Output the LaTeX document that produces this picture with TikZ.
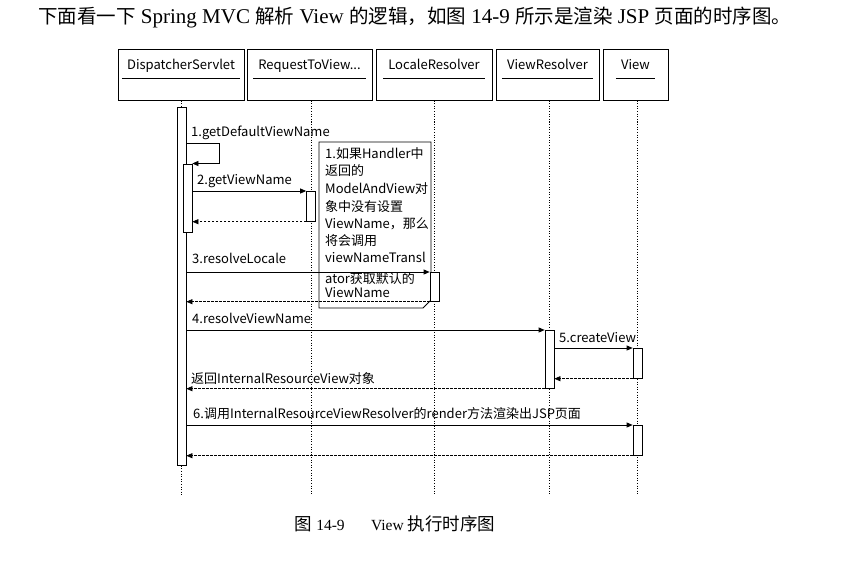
\documentclass[tikz,border=0pt]{standalone}
\usepackage{fontspec}
\setmainfont{Liberation Serif}
\newfontfamily\cjk{Noto Sans CJK SC}
\usetikzlibrary{arrows.meta}
\newcommand\zhT[1]{{\cjk\fontsize{19.5}{22}\selectfont #1}}
\newcommand\zhC[1]{{\cjk\fontsize{17.5}{20}\selectfont #1}}
\newcommand\dgf{\cjk\fontsize{13}{16}\selectfont}
\begin{document}
\begin{tikzpicture}[x=1pt,y=-1pt,
  hdr/.style={draw, line width=0.7pt, inner sep=0pt, anchor=north west, minimum height=51pt},
  hlab/.style={font=\dgf, inner xsep=5pt, inner ysep=5pt, text height=10pt, text depth=3pt, anchor=south},
  act/.style={draw, fill=white, line width=0.7pt, minimum width=9pt, inner sep=0pt, anchor=north},
  life/.style={line width=0.8pt, dash pattern=on 1pt off 1.6pt},
  msg/.style={line width=0.7pt, -{Triangle[length=6pt,width=5pt]}},
  ret/.style={msg, dash pattern=on 2.5pt off 1.5pt},
  lab/.style={font=\dgf, anchor=base west, inner sep=0pt},
  notetxt/.style={font=\dgf, anchor=base west, inner sep=0pt}]
\useasboundingbox[fill=white] (0,0) rectangle (845,575);

% title
\node[anchor=base west, inner sep=0pt, font=\fontsize{21}{24}\selectfont] (title) at (38,24)
  {\zhT{下面看一下} Spring MVC \zhT{解析} View \zhT{的逻辑，如图} 14-9 \zhT{所示是渲染} JSP \zhT{页面的时序图。}};

% headers
\node[hdr, minimum width=126pt] (hDS) at (118,49) {};
\node[hdr, minimum width=125pt] (hRTV) at (247,49) {};
\node[hdr, minimum width=116pt] (hLR) at (376,49) {};
\node[hdr, minimum width=103pt] (hVR) at (496,49) {};
\node[hdr, minimum width=65pt] (hV) at (603,49) {};

\node[hlab] (tDS) at (181,78) {DispatcherServlet};
\node[hlab] (tRTV) at (309.5,78) {RequestToView...};
\node[hlab] (tLR) at (434,78) {LocaleResolver};
\node[hlab] (tVR) at (547.5,78) {ViewResolver};
\node[hlab] (tV) at (635.5,78) {View};
\foreach \t in {tDS,tRTV,tLR,tVR,tV}
  \draw[line width=0.7pt] (\t.south west) -- (\t.south east);

% lifeline ends
\coordinate (eDS) at (181.5,495);
\coordinate (eRTV) at (311,495);
\coordinate (eLR) at (434.5,495);
\coordinate (eVR) at (549.5,495);
\coordinate (eV) at (637.5,495);

% lifelines
\path (181.5,107) coordinate (dsTop);
\draw[life] (hDS.south -| dsTop) -- (dsTop);
\draw[life] (hRTV.south -| eRTV) -- (eRTV);
\draw[life] (hLR.south -| eLR) -- (eLR);
\draw[life] (hVR.south -| eVR) -- (eVR);
\draw[life] (hV.south -| eV) -- (eV);

% note
\draw[line width=0.8pt, fill=white] (319,142) -- (431,142) -- (431,300) -- (423,308) -- (319,308) -- cycle;
\node[notetxt] (n1) at (325,158) {1.如果Handler中};
\node[notetxt] (n2) at (325,175) {返回的};
\node[notetxt] (n3) at (325,193) {ModelAndView对};
\node[notetxt] (n4) at (325,211) {象中没有设置};
\node[notetxt] (n5) at (325,228) {ViewName，那么};
\node[notetxt] (n6) at (325,245) {将会调用};
\node[notetxt] (n7) at (325,262) {viewNameTransl};
\node[notetxt] (n8) at (325,283) {ator获取默认的};
\node[notetxt] (n9) at (325,297) {ViewName};

% activations
\node[act, minimum height=358pt] (dsA) at (dsTop) {};
\draw[life] (dsA.south) -- (eDS);
\node[act, minimum height=68pt] (nA) at (187.5,164) {};
\node[act, minimum height=30pt] (rtvA) at (311,191) {};
\node[act, minimum height=29pt] (lrA) at (434.5,272) {};
\node[act, minimum height=58pt] (vrA) at (549.5,330) {};
\node[act, minimum height=30pt] (vA1) at (637.5,348) {};
\node[act, minimum height=30pt] (vA2) at (637.5,425) {};

% messages
\coordinate (loopA) at (219,143);
\coordinate (loopB) at (219,163.5);
\draw[msg] (dsA.east |- loopA) -- (loopA) -- (loopB) -- (nA.east |- loopB);
\node[lab] (l1) at (191,136) {1.getDefaultViewName};

\draw[msg] (nA.east |- rtvA.north) -- (rtvA.north west);
\draw[ret] (rtvA.south west) -- (nA.east |- rtvA.south);
\node[lab] (l2) at (197,184) {2.getViewName};

\draw[msg] (dsA.east |- lrA.north) -- (lrA.north west);
\draw[ret] (lrA.south west) -- (dsA.east |- lrA.south);
\node[lab] (l3) at (192,263) {3.resolveLocale};

\draw[msg] (dsA.east |- vrA.north) -- (vrA.north west);
\node[lab] (l4) at (192,323) {4.resolveViewName};

\draw[msg] (vrA.east |- vA1.north) -- (vA1.north west);
\draw[ret] (vA1.south west) -- (vrA.east |- vA1.south);
\node[lab] (l5) at (559,342) {5.createView};

\draw[ret] (vrA.south west) -- (dsA.east |- vrA.south);
\node[lab] (l5r) at (191,383) {返回InternalResourceView对象};

\draw[msg] (dsA.east |- vA2.north) -- (vA2.north west);
\draw[ret] (vA2.south west) -- (dsA.east |- vA2.south);
\node[lab] (l6) at (193,418) {6.调用InternalResourceViewResolver的render方法渲染出JSP页面};

% caption
\node[anchor=base, inner sep=0pt, font=\fontsize{15.5}{18}\selectfont] (cap) at (395,530)
  {\zhC{图} 14-9\hspace{1.7em}View \zhC{执行时序图}};
\end{tikzpicture}
\end{document}
